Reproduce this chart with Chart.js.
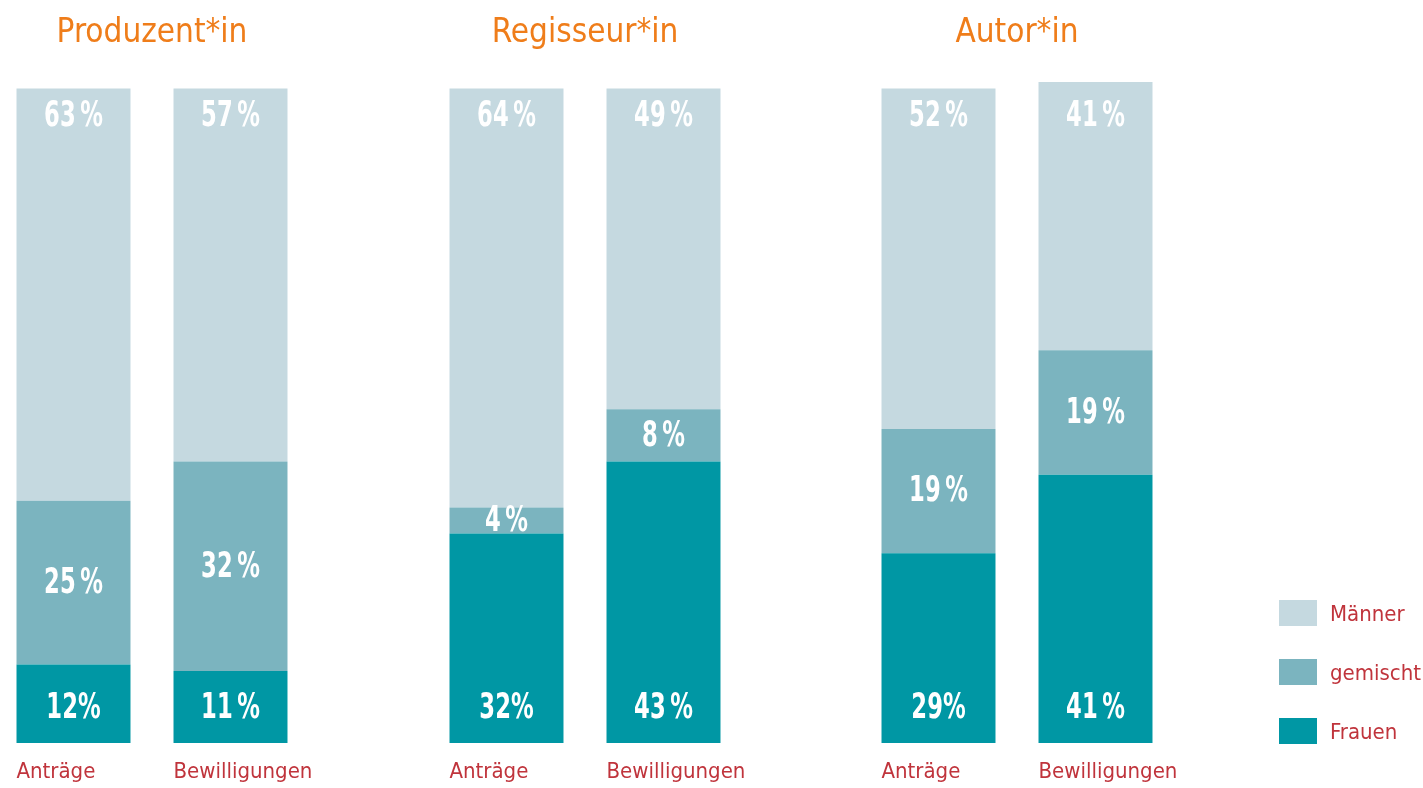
<!DOCTYPE html>
<html lang="de">
<head>
  <meta charset="UTF-8">
  <title>Anträge und Bewilligungen nach Geschlecht</title>
  <script src="https://cdn.jsdelivr.net/npm/chart.js"></script>
  <style>
    body { margin: 0; background: #fff; overflow: hidden; }
    .wrap { position: relative; width: 1423px; height: 788px; }
    .group { position: absolute; top: 0; width: 433px; height: 788px; }
    .legend { position: absolute; left: 1279px; top: 600px; font-family: "Liberation Sans Narrow", "DejaVu Sans Condensed", "Roboto", sans-serif; font-size: 22px; color: #c0343c; }
    .legend div { position: relative; height: 59px; }
    .legend span.box { position: absolute; left: 0; top: 0; width: 38px; height: 26px; }
    .legend span.txt { position: absolute; left: 51px; top: 13px; transform: translateY(-50%); white-space: nowrap; }
  </style>
</head>
<body>
  <div class="wrap">
    <div class="group" style="left:-5px"><canvas id="c0" width="433" height="788"></canvas></div>
    <div class="group" style="left:428px"><canvas id="c1" width="433" height="788"></canvas></div>
    <div class="group" style="left:860px"><canvas id="c2" width="433" height="788"></canvas></div>

    <div class="legend">
      <div><span class="box" style="background:#c5d9e0"></span><span class="txt">Männer</span></div>
      <div><span class="box" style="background:#7bb4bf"></span><span class="txt">gemischt</span></div>
      <div><span class="box" style="background:#0097a4"></span><span class="txt">Frauen</span></div>
    </div>
  </div>

  <script>
    // data (two bars per group: Anträge, Bewilligungen)
    const groups = ['Produzent*in', 'Regisseur*in', 'Autor*in'];
    const categories = ['Anträge', 'Bewilligungen'];
    const frauen = [12, 11, 32, 43, 29, 41];
    const gemischt = [25, 32, 4, 8, 19, 19];
    const maenner = [63, 57, 64, 49, 52, 41];

    const NARROW = '"Liberation Sans Narrow", "DejaVu Sans Condensed", "Roboto", sans-serif';
    const colFrauen = '#0097a4';
    const colGemischt = '#7bb4bf';
    const colMaenner = '#c5d9e0';

    // white percent labels inside the bars
    const barLabels = {
      id: 'barLabels',
      afterDatasetsDraw(chart) {
        const ctx = chart.ctx;
        const top100 = chart.scales.y.getPixelForValue(100);
        ctx.save();
        ctx.fillStyle = '#fff';
        ctx.font = 'bold 36px ' + NARROW;
        ctx.textAlign = 'center';
        ctx.textBaseline = 'middle';
        chart.data.datasets.forEach((ds, di) => {
          chart.getDatasetMeta(di).data.forEach((bar, i) => {
            const v = ds.data[i];
            // Frauen/Anträge labels are set without the space
            const txt = (di === 0 && i === 0) ? v + '%' : v + '\u2009%';
            let y;
            if (di === 0) y = bar.base - 34;
            else if (di === 1) y = (bar.y + bar.base) / 2 + 1;
            else y = top100 + 28;
            ctx.save();
            ctx.translate(bar.x, y);
            ctx.scale(0.7, 1); // squeeze to a condensed look
            ctx.fillText(txt, 0, 0);
            ctx.restore();
          });
        });
        ctx.restore();
      }
    };

    groups.forEach((g, gi) => {
      const sl = arr => arr.slice(gi * 2, gi * 2 + 2);
      new Chart(document.getElementById('c' + gi), {
        type: 'bar',
        data: {
          labels: categories,
          datasets: [
            { label: 'Frauen', data: sl(frauen), backgroundColor: colFrauen },
            { label: 'gemischt', data: sl(gemischt), backgroundColor: colGemischt },
            { label: 'Männer', data: sl(maenner), backgroundColor: colMaenner }
          ]
        },
        options: {
          responsive: false,
          animation: false,
          layout: { padding: { left: 0, right: 119, top: 0, bottom: 0 } },
          datasets: { bar: { barPercentage: 0.726, categoryPercentage: 1, clip: false, borderWidth: 0 } },
          plugins: {
            legend: { display: false },
            tooltip: { enabled: false },
            title: {
              display: true,
              text: g,
              color: '#ef7d1a',
              font: { family: NARROW, size: 33, weight: 'normal' },
              padding: { top: 14, bottom: 35 }
            }
          },
          scales: {
            x: {
              stacked: true,
              grid: { display: false, drawTicks: false },
              border: { display: false },
              afterFit: s => { s.height = 45; },
              ticks: {
                color: '#c0343c',
                font: { family: NARROW, size: 22 },
                align: 'start',
                labelOffset: -57,
                padding: 16,
                autoSkip: false,
                maxRotation: 0
              }
            },
            y: { stacked: true, display: false, min: 0, max: 100 }
          }
        },
        plugins: [barLabels]
      });
    });
  </script>
</body>
</html>
